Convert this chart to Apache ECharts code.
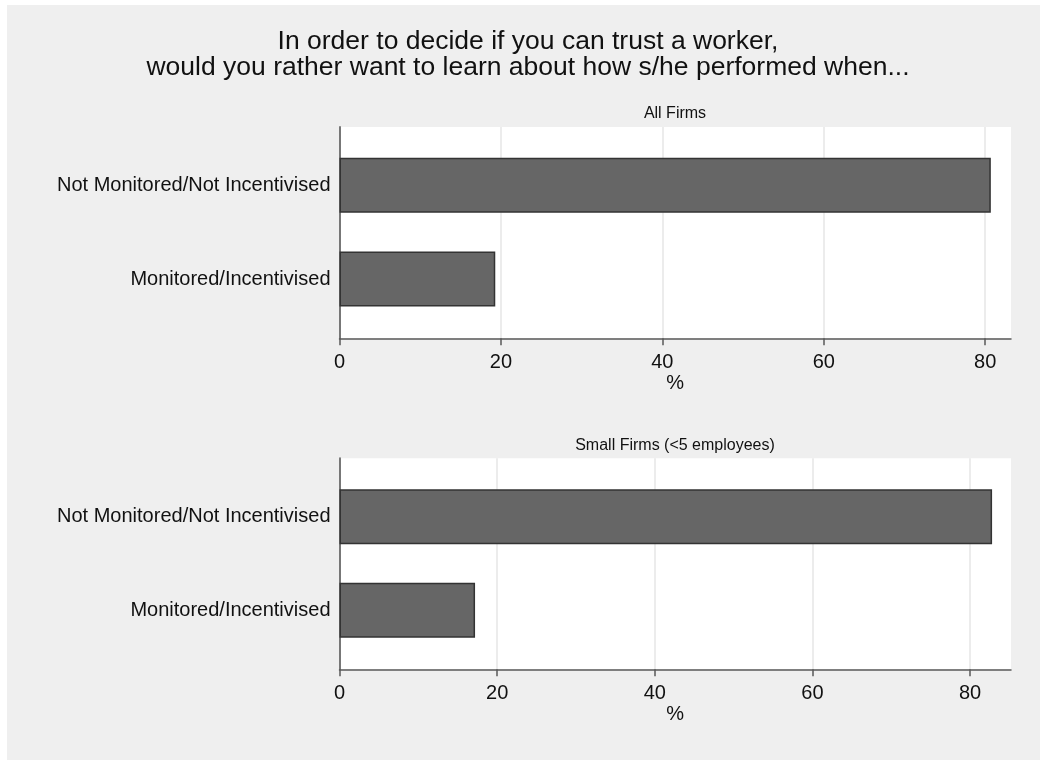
<!DOCTYPE html>
<html>
<head>
<meta charset="utf-8">
<script src="https://cdn.jsdelivr.net/npm/echarts@6/dist/echarts.min.js"></script>
<style>
  html, body { margin: 0; padding: 0; background: #ffffff; }
  #main { position: absolute; left: 7px; top: 5px; width: 1033px; height: 755px; }
</style>
</head>
<body>
<div id="main"></div>
<script>
// answers, top category first
var categories = ['Not Monitored/Not Incentivised', 'Monitored/Incentivised'];
var allFirms = [80.7, 19.3];
var smallFirms = [82.8, 17.2];
var xTicks = [0, 20, 40, 60, 80];
var panelTitles = ['All Firms', 'Small Firms (<5 employees)'];

var FONT = "'Liberation Sans', Arial, sans-serif";
var TXT = '#111';
var AXIS = '#5a5a5a';

var chart = echarts.init(document.getElementById('main'));

// background grid carries the axes, the inner grid carries the bars (stata puts a gap at both ends)
function bgX(idx, max) {
  return {
    type: 'value', gridIndex: idx, min: 0, max: max, interval: 20,
    axisLine: { show: true, lineStyle: { color: AXIS, width: 1.5 } },
    axisTick: { show: true, length: 7, customValues: xTicks, lineStyle: { color: AXIS, width: 1.5 } },
    axisLabel: { customValues: xTicks, fontSize: 20, color: TXT, fontFamily: FONT, margin: 14 },
    splitLine: { show: true, lineStyle: { color: '#e6e6e6', width: 1.5 } },
    name: '%', nameLocation: 'middle', nameGap: 33,
    nameTextStyle: { fontSize: 20, color: TXT, fontFamily: FONT }
  };
}
function barX(idx, max) {
  return { type: 'value', gridIndex: idx, min: 0, max: max, show: false };
}
function bgY(idx) {
  return {
    type: 'value', gridIndex: idx, min: 0, max: 1,
    axisLine: { show: true, lineStyle: { color: '#777', width: 2 } },
    axisTick: { show: false }, axisLabel: { show: false }, splitLine: { show: false }
  };
}
function barY(idx) {
  return {
    type: 'category', gridIndex: idx, inverse: true, data: categories,
    axisLine: { show: false }, axisTick: { show: false },
    axisLabel: { fontSize: 20, color: TXT, fontFamily: FONT, margin: 9 }
  };
}
function bars(idx, values) {
  return {
    type: 'bar', xAxisIndex: idx, yAxisIndex: idx, data: values, barWidth: 55,
    itemStyle: { color: '#666666', borderColor: '#333333', borderWidth: 1.5 },
    silent: true, animation: false
  };
}

chart.setOption({
  backgroundColor: '#efefef',
  animation: false,
  title: [{
    text: 'In order to decide if you can trust a worker,\nwould you rather want to learn about how s/he performed when...',
    left: 521, top: 23.5, textAlign: 'center', padding: 0,
    textStyle: { fontSize: 26.5, fontWeight: 'normal', color: TXT, fontFamily: FONT, lineHeight: 26 }
  }, {
    text: panelTitles[0], left: 668, top: 101, textAlign: 'center', padding: 0,
    textStyle: { fontSize: 16, fontWeight: 'normal', color: TXT, fontFamily: FONT, lineHeight: 16 }
  }, {
    text: panelTitles[1], left: 668, top: 433, textAlign: 'center', padding: 0,
    textStyle: { fontSize: 16, fontWeight: 'normal', color: TXT, fontFamily: FONT, lineHeight: 16 }
  }],
  grid: [
    { left: 332.5, top: 122, width: 671.5, height: 211.3, show: true, backgroundColor: '#ffffff', borderWidth: 0 },
    { left: 332.5, top: 133.3, width: 671.5, height: 187.6 },
    { left: 332.5, top: 453.3, width: 671.5, height: 211, show: true, backgroundColor: '#ffffff', borderWidth: 0 },
    { left: 332.5, top: 465, width: 671.5, height: 187 }
  ],
  xAxis: [bgX(0, 83.2), barX(1, 83.2), bgX(2, 85.2), barX(3, 85.2)],
  yAxis: [bgY(0), barY(1), bgY(2), barY(3)],
  series: [
    { type: 'bar', xAxisIndex: 0, yAxisIndex: 0, data: [] },
    bars(1, allFirms),
    { type: 'bar', xAxisIndex: 2, yAxisIndex: 2, data: [] },
    bars(3, smallFirms)
  ]
});
</script>
</body>
</html>
